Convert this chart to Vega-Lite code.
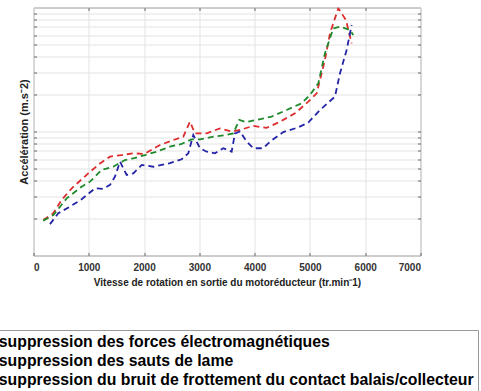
{
  "$schema": "https://vega.github.io/schema/vega-lite/v6.json",
  "autosize": {"type": "none"},
  "padding": {"left": 33.5, "top": 7.5, "right": 60.5, "bottom": 135.5},
  "width": 387,
  "height": 248,
  "background": "white",
  "config": {
    "font": "Liberation Sans",
    "view": {"stroke": "#9a9a9a", "strokeWidth": 1},
    "axis": {"gridColor": "#e3e3e3", "gridWidth": 1, "tickColor": "#666", "domain": false}
  },
  "data": {"values": [
    {"serie": "suppression des forces électromagnétiques", "x": 177, "y": 0.193},
    {"serie": "suppression des forces électromagnétiques", "x": 358, "y": 0.219},
    {"serie": "suppression des forces électromagnétiques", "x": 510, "y": 0.281},
    {"serie": "suppression des forces électromagnétiques", "x": 691, "y": 0.348},
    {"serie": "suppression des forces électromagnétiques", "x": 991, "y": 0.46},
    {"serie": "suppression des forces électromagnétiques", "x": 1203, "y": 0.553},
    {"serie": "suppression des forces électromagnétiques", "x": 1384, "y": 0.627},
    {"serie": "suppression des forces électromagnétiques", "x": 1595, "y": 0.646},
    {"serie": "suppression des forces électromagnétiques", "x": 1805, "y": 0.667},
    {"serie": "suppression des forces électromagnétiques", "x": 2004, "y": 0.659},
    {"serie": "suppression des forces électromagnétiques", "x": 2288, "y": 0.778},
    {"serie": "suppression des forces électromagnétiques", "x": 2529, "y": 0.853},
    {"serie": "suppression des forces électromagnétiques", "x": 2709, "y": 0.908},
    {"serie": "suppression des forces électromagnétiques", "x": 2830, "y": 1.2},
    {"serie": "suppression des forces électromagnétiques", "x": 2920, "y": 0.966},
    {"serie": "suppression des forces électromagnétiques", "x": 3133, "y": 0.966},
    {"serie": "suppression des forces électromagnétiques", "x": 3373, "y": 1.06},
    {"serie": "suppression des forces électromagnétiques", "x": 3584, "y": 1.0},
    {"serie": "suppression des forces électromagnétiques", "x": 3735, "y": 1.03},
    {"serie": "suppression des forces électromagnétiques", "x": 3975, "y": 1.11},
    {"serie": "suppression des forces électromagnétiques", "x": 4217, "y": 1.07},
    {"serie": "suppression des forces électromagnétiques", "x": 4459, "y": 1.2},
    {"serie": "suppression des forces électromagnétiques", "x": 4729, "y": 1.4},
    {"serie": "suppression des forces électromagnétiques", "x": 4970, "y": 1.74},
    {"serie": "suppression des forces électromagnétiques", "x": 5122, "y": 2.03},
    {"serie": "suppression des forces électromagnétiques", "x": 5272, "y": 3.78},
    {"serie": "suppression des forces électromagnétiques", "x": 5363, "y": 6.19},
    {"serie": "suppression des forces électromagnétiques", "x": 5513, "y": 9.86},
    {"serie": "suppression des forces électromagnétiques", "x": 5652, "y": 7.93},
    {"serie": "suppression des forces électromagnétiques", "x": 5755, "y": 5.14},
    {"serie": "suppression des sauts de lame", "x": 177, "y": 0.191},
    {"serie": "suppression des sauts de lame", "x": 360, "y": 0.212},
    {"serie": "suppression des sauts de lame", "x": 600, "y": 0.289},
    {"serie": "suppression des sauts de lame", "x": 871, "y": 0.359},
    {"serie": "suppression des sauts de lame", "x": 1022, "y": 0.394},
    {"serie": "suppression des sauts de lame", "x": 1233, "y": 0.49},
    {"serie": "suppression des sauts de lame", "x": 1443, "y": 0.52},
    {"serie": "suppression des sauts de lame", "x": 1655, "y": 0.589},
    {"serie": "suppression des sauts de lame", "x": 1805, "y": 0.608},
    {"serie": "suppression des sauts de lame", "x": 2016, "y": 0.646},
    {"serie": "suppression des sauts de lame", "x": 2228, "y": 0.687},
    {"serie": "suppression des sauts de lame", "x": 2468, "y": 0.755},
    {"serie": "suppression des sauts de lame", "x": 2680, "y": 0.794},
    {"serie": "suppression des sauts de lame", "x": 2861, "y": 0.865},
    {"serie": "suppression des sauts de lame", "x": 3011, "y": 0.865},
    {"serie": "suppression des sauts de lame", "x": 3252, "y": 0.908},
    {"serie": "suppression des sauts de lame", "x": 3494, "y": 0.938},
    {"serie": "suppression des sauts de lame", "x": 3614, "y": 0.966},
    {"serie": "suppression des sauts de lame", "x": 3722, "y": 1.24},
    {"serie": "suppression des sauts de lame", "x": 3850, "y": 1.19},
    {"serie": "suppression des sauts de lame", "x": 4036, "y": 1.24},
    {"serie": "suppression des sauts de lame", "x": 4308, "y": 1.32},
    {"serie": "suppression des sauts de lame", "x": 4579, "y": 1.49},
    {"serie": "suppression des sauts de lame", "x": 4850, "y": 1.69},
    {"serie": "suppression des sauts de lame", "x": 5001, "y": 1.97},
    {"serie": "suppression des sauts de lame", "x": 5152, "y": 2.45},
    {"serie": "suppression des sauts de lame", "x": 5272, "y": 4.28},
    {"serie": "suppression des sauts de lame", "x": 5423, "y": 6.79},
    {"serie": "suppression des sauts de lame", "x": 5543, "y": 7.0},
    {"serie": "suppression des sauts de lame", "x": 5724, "y": 6.59},
    {"serie": "suppression des sauts de lame", "x": 5784, "y": 6.0},
    {"serie": "suppression du bruit de frottement du contact balais/collecteur", "x": 298, "y": 0.179},
    {"serie": "suppression du bruit de frottement du contact balais/collecteur", "x": 448, "y": 0.219},
    {"serie": "suppression du bruit de frottement du contact balais/collecteur", "x": 660, "y": 0.248},
    {"serie": "suppression du bruit de frottement du contact balais/collecteur", "x": 871, "y": 0.284},
    {"serie": "suppression du bruit de frottement du contact balais/collecteur", "x": 1112, "y": 0.348},
    {"serie": "suppression du bruit de frottement du contact balais/collecteur", "x": 1263, "y": 0.345},
    {"serie": "suppression du bruit de frottement du contact balais/collecteur", "x": 1384, "y": 0.371},
    {"serie": "suppression du bruit de frottement du contact balais/collecteur", "x": 1474, "y": 0.433},
    {"serie": "suppression du bruit de frottement du contact balais/collecteur", "x": 1565, "y": 0.571},
    {"serie": "suppression du bruit de frottement du contact balais/collecteur", "x": 1685, "y": 0.446},
    {"serie": "suppression du bruit de frottement du contact balais/collecteur", "x": 1805, "y": 0.46},
    {"serie": "suppression du bruit de frottement du contact balais/collecteur", "x": 1957, "y": 0.537},
    {"serie": "suppression du bruit de frottement du contact balais/collecteur", "x": 2167, "y": 0.52},
    {"serie": "suppression du bruit de frottement du contact balais/collecteur", "x": 2468, "y": 0.555},
    {"serie": "suppression du bruit de frottement du contact balais/collecteur", "x": 2680, "y": 0.597},
    {"serie": "suppression du bruit de frottement du contact balais/collecteur", "x": 2800, "y": 0.667},
    {"serie": "suppression du bruit de frottement du contact balais/collecteur", "x": 2890, "y": 0.938},
    {"serie": "suppression du bruit de frottement du contact balais/collecteur", "x": 3011, "y": 0.733},
    {"serie": "suppression du bruit de frottement du contact balais/collecteur", "x": 3133, "y": 0.687},
    {"serie": "suppression du bruit de frottement du contact balais/collecteur", "x": 3283, "y": 0.667},
    {"serie": "suppression du bruit de frottement du contact balais/collecteur", "x": 3433, "y": 0.733},
    {"serie": "suppression du bruit de frottement du contact balais/collecteur", "x": 3584, "y": 0.687},
    {"serie": "suppression du bruit de frottement du contact balais/collecteur", "x": 3644, "y": 0.966},
    {"serie": "suppression du bruit de frottement du contact balais/collecteur", "x": 3735, "y": 1.0},
    {"serie": "suppression du bruit de frottement du contact balais/collecteur", "x": 3856, "y": 0.828},
    {"serie": "suppression du bruit de frottement du contact balais/collecteur", "x": 3975, "y": 0.733},
    {"serie": "suppression du bruit de frottement du contact balais/collecteur", "x": 4156, "y": 0.733},
    {"serie": "suppression du bruit de frottement du contact balais/collecteur", "x": 4278, "y": 0.828},
    {"serie": "suppression du bruit de frottement du contact balais/collecteur", "x": 4518, "y": 0.99},
    {"serie": "suppression du bruit de frottement du contact balais/collecteur", "x": 4789, "y": 1.08},
    {"serie": "suppression du bruit de frottement du contact balais/collecteur", "x": 4970, "y": 1.18},
    {"serie": "suppression du bruit de frottement du contact balais/collecteur", "x": 5182, "y": 1.49},
    {"serie": "suppression du bruit de frottement du contact balais/collecteur", "x": 5453, "y": 1.91},
    {"serie": "suppression du bruit de frottement du contact balais/collecteur", "x": 5543, "y": 2.94},
    {"serie": "suppression du bruit de frottement du contact balais/collecteur", "x": 5664, "y": 4.54},
    {"serie": "suppression du bruit de frottement du contact balais/collecteur", "x": 5755, "y": 7.23}
  ]},
  "layer": [
    {
      "mark": {"type": "line", "strokeDash": [6, 4], "strokeWidth": 1.8, "clip": true},
      "encoding": {
        "x": {"field": "x", "type": "quantitative", "scale": {"domain": [0, 7000], "nice": false, "zero": false},
          "axis": {"orient": "bottom", "values": [0, 1000, 2000, 3000, 4000, 5000, 6000, 7000], "format": "d", "grid": true, "tickSize": -3,
            "labelFontSize": 10, "labelFontWeight": "bold", "labelColor": "#333", "labelPadding": 10,
            "title": "Vitesse de rotation en sortie du motoréducteur (tr.min⁻1)", "titleFontSize": 10, "titleFontWeight": "bold", "titleColor": "#222", "titlePadding": 5}},
        "y": {"field": "y", "type": "quantitative", "scale": {"type": "log", "domain": [0.1, 10], "nice": false},
          "axis": {"orient": "left", "values": [0.2, 0.3, 0.4, 0.5, 0.6, 0.7, 0.8, 0.9, 1, 2, 3, 4, 5, 6, 7, 8, 9], "grid": true, "tickSize": -3, "labels": false,
            "title": "Accélération (m.s⁻2)", "titleFontSize": 11, "titleFontWeight": "bold", "titleColor": "#222", "titlePadding": 4}},
        "color": {"field": "serie", "type": "nominal",
          "scale": {"domain": ["suppression des forces électromagnétiques", "suppression des sauts de lame", "suppression du bruit de frottement du contact balais/collecteur"],
            "range": ["#dc2e2e", "#1f8a2c", "#2424a6"]},
          "legend": {"orient": "none", "legendX": -58.5, "legendY": 322.5, "title": null, "symbolType": "stroke", "symbolDash": [6, 4],
            "labelFontSize": 15.8, "labelFontWeight": "bold", "labelColor": "#000", "labelLimit": 1000,
            "strokeColor": "#999", "padding": 4, "rowPadding": 2, "fillColor": "white"}}
      }
    },
    {
      "mark": {"type": "line", "strokeOpacity": 0},
      "encoding": {
        "x": {"field": "x", "type": "quantitative", "axis": {"orient": "top", "values": [1000, 2000, 3000, 4000, 5000, 6000], "grid": false, "tickSize": -3, "labels": false, "title": null}},
        "y": {"field": "y", "type": "quantitative", "axis": {"orient": "right", "values": [0.2, 0.3, 0.4, 0.5, 0.6, 0.7, 0.8, 0.9, 1, 2, 3, 4, 5, 6, 7, 8, 9], "grid": false, "tickSize": -3, "labels": false, "title": null}},
        "detail": {"field": "serie", "type": "nominal"}
      }
    }
  ],
  "resolve": {"axis": {"x": "independent", "y": "independent"}}
}
